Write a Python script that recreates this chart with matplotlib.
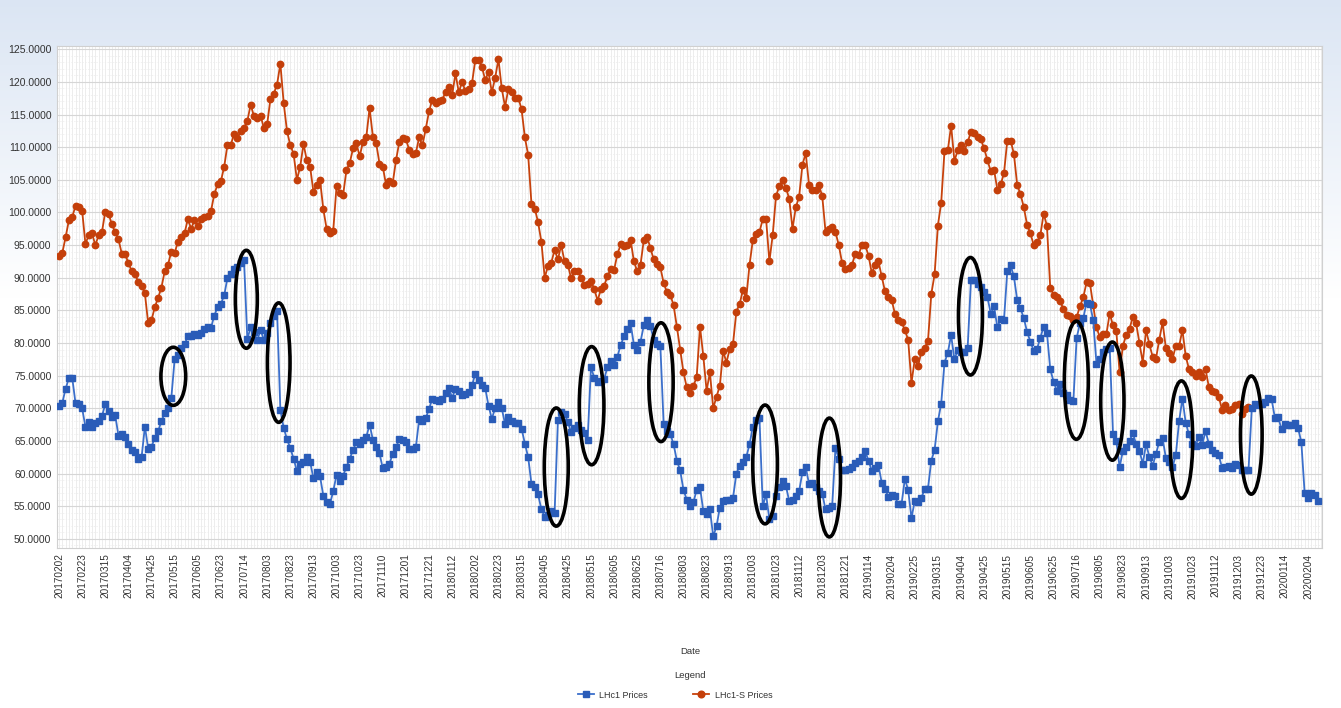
import numpy as np
import matplotlib
matplotlib.use("Agg")
import matplotlib.pyplot as plt
from matplotlib.patches import Ellipse
from matplotlib.lines import Line2D

plt.rcParams['font.family'] = ['Liberation Sans', 'DejaVu Sans']

# ---------------- data ----------------
STEP = 2          # one value every 2 trading days
TICK_EVERY = 14   # a date label every 14 trading days

tick_labels = [
    "20170202", "20170223", "20170315", "20170404", "20170425", "20170515", "20170605",
    "20170623", "20170714", "20170803", "20170823", "20170913", "20171003", "20171023",
    "20171110", "20171201", "20171221", "20180112", "20180202", "20180223", "20180315",
    "20180405", "20180425", "20180515", "20180605", "20180625", "20180716", "20180803",
    "20180823", "20180913", "20181003", "20181023", "20181112", "20181203", "20181221",
    "20190114", "20190204", "20190225", "20190315", "20190404", "20190425", "20190515",
    "20190605", "20190625", "20190716", "20190805", "20190823", "20190913", "20191003",
    "20191023", "20191112", "20191203", "20191223", "20200114", "20200204",
]

lhc1 = [
    70.3, 70.8, 73.0, 74.6, 74.7, 70.8, 70.7, 70.0, 67.2, 67.9,
    67.2, 67.8, 68.1, 68.8, 70.6, 69.6, 68.7, 69.0, 65.8, 66.0,
    65.6, 64.6, 63.6, 63.3, 62.3, 62.5, 67.2, 63.8, 64.1, 65.5,
    66.5, 68.0, 69.3, 70.0, 71.6, 77.5, 78.2, 79.2, 79.8, 81.0,
    81.1, 81.4, 81.3, 81.5, 82.2, 82.5, 82.3, 84.2, 85.5, 86.0,
    87.3, 90.0, 90.6, 91.4, 91.7, 92.2, 92.7, 80.6, 82.4, 81.7,
    80.4, 82.0, 80.5, 81.5, 83.1, 84.2, 84.9, 69.8, 67.0, 65.3,
    63.9, 62.3, 60.4, 61.4, 61.8, 62.5, 61.8, 59.3, 60.2, 59.6,
    56.6, 55.7, 55.3, 57.3, 59.8, 58.9, 59.7, 61.0, 62.3, 63.6,
    64.8, 64.5, 65.1, 65.6, 67.5, 65.2, 64.1, 63.1, 60.8, 61.0,
    61.5, 63.0, 64.0, 65.3, 65.1, 64.8, 63.7, 63.7, 64.0, 68.3,
    68.0, 68.5, 69.9, 71.5, 71.3, 71.1, 71.4, 72.3, 73.1, 71.6,
    73.0, 72.6, 72.0, 72.2, 72.5, 73.5, 75.3, 74.4, 73.6, 73.1,
    70.4, 68.4, 70.0, 71.0, 70.0, 67.6, 68.7, 68.0, 67.7, 67.7,
    66.9, 64.6, 62.5, 58.4, 57.9, 56.8, 54.5, 53.4, 53.7, 54.2,
    54.0, 68.2, 69.5, 69.2, 67.9, 66.3, 67.0, 67.4, 66.6, 66.2,
    65.2, 76.3, 74.7, 74.0, 74.2, 74.5, 76.3, 77.2, 76.6, 77.9,
    79.7, 81.0, 82.1, 83.0, 79.7, 79.0, 80.2, 82.7, 83.5, 82.6,
    80.5, 79.9, 79.6, 67.6, 66.5, 66.1, 64.5, 62.0, 60.5, 57.5,
    56.0, 55.0, 55.6, 57.5, 57.9, 54.3, 53.8, 54.5, 50.4, 51.9,
    54.8, 55.8, 56.0, 56.0, 56.3, 60.0, 61.2, 61.7, 62.5, 64.5,
    67.2, 68.2, 68.5, 55.0, 56.8, 53.0, 53.5, 56.5, 58.0, 58.8,
    58.1, 55.8, 55.9, 56.6, 57.3, 60.2, 61.0, 58.4, 58.6, 57.9,
    57.4, 56.9, 54.5, 54.8, 55.0, 63.9, 62.3, 60.5, 60.5, 60.7,
    61.0, 61.6, 62.0, 62.5, 63.4, 62.0, 60.4, 60.9, 61.3, 58.6,
    57.7, 56.4, 56.7, 56.5, 55.3, 55.3, 59.2, 57.5, 53.2, 55.8,
    55.6, 56.3, 57.6, 57.7, 62.0, 63.6, 68.0, 70.7, 77.0, 78.5,
    81.2, 77.5, 78.9, 78.7, 78.7, 79.2, 89.6, 89.6, 89.0, 88.6,
    87.8, 87.0, 84.5, 85.6, 82.4, 83.7, 83.5, 91.0, 91.9, 90.2,
    86.6, 85.3, 83.8, 81.7, 80.2, 78.8, 79.1, 80.8, 82.5, 81.6,
    76.0, 74.1, 72.7, 73.7, 72.3, 72.1, 71.3, 71.1, 80.8, 83.0,
    83.8, 86.2, 86.0, 83.5, 76.8, 77.6, 78.7, 79.1, 79.3, 66.0,
    65.0, 61.0, 63.5, 64.0, 65.0, 66.2, 64.5, 63.5, 61.5, 64.5,
    62.6, 61.2, 63.0, 64.9, 65.4, 62.4, 61.8, 61.0, 62.8, 68.0,
    71.5, 67.8, 66.0, 64.5, 64.3, 65.6, 64.4, 66.5, 64.6, 63.6,
    63.1, 62.8, 60.9, 61.0, 61.2, 60.8, 61.4, 61.3, 60.6, 60.6,
    60.5, 70.0, 70.7, 70.5, 70.7, 71.0, 71.6, 71.4, 68.5, 68.6,
    66.8, 67.6, 67.5, 67.5, 67.8, 67.0, 64.8, 57.0, 56.3, 57.0,
    56.7, 55.8,
]

lhc1_s = [
    93.4, 93.8, 96.2, 98.8, 99.3, 101.0, 100.8, 100.3, 95.2, 96.5,
    96.8, 95.0, 96.5, 97.0, 100.1, 99.8, 98.2, 97.0, 95.9, 93.7,
    93.6, 92.3, 91.0, 90.5, 89.4, 88.8, 87.6, 83.0, 83.5, 85.5,
    86.9, 88.5, 91.0, 92.0, 94.0, 93.8, 95.5, 96.3, 96.8, 99.0,
    97.5, 98.8, 97.9, 99.0, 99.3, 99.4, 100.2, 102.8, 104.3, 104.8,
    107.0, 110.4, 110.4, 112.0, 111.4, 112.5, 113.0, 114.0, 116.5, 114.8,
    114.5, 114.8, 113.0, 113.5, 117.4, 118.2, 119.6, 122.8, 116.8, 112.5,
    110.3, 109.0, 105.0, 107.0, 110.5, 108.0, 107.0, 103.2, 104.2, 105.0,
    100.5, 97.5, 96.9, 97.2, 104.0, 103.0, 102.7, 106.5, 107.6, 109.8,
    110.6, 108.6, 110.8, 111.5, 116.0, 111.6, 110.6, 107.5, 107.0, 104.2,
    104.8, 104.5, 108.0, 110.8, 111.4, 111.2, 109.6, 108.9, 109.1, 111.5,
    110.3, 112.8, 115.5, 117.3, 116.8, 117.0, 117.3, 118.4, 119.2, 118.0,
    121.3, 118.4, 120.0, 118.6, 118.9, 119.8, 123.4, 123.3, 122.3, 120.3,
    121.5, 118.4, 120.6, 123.5, 119.0, 116.2, 118.9, 118.4, 117.6, 117.6,
    115.8, 111.5, 108.8, 101.3, 100.6, 98.5, 95.5, 90.0, 91.8, 92.3,
    94.3, 92.8, 95.0, 92.5, 92.0, 89.9, 91.0, 91.0, 90.0, 88.9,
    89.0, 89.5, 88.3, 86.5, 88.2, 88.8, 90.2, 91.4, 91.2, 93.6,
    95.1, 94.9, 95.0, 95.8, 92.5, 91.0, 92.0, 95.8, 96.3, 94.5,
    92.8, 92.1, 91.6, 89.2, 87.8, 87.4, 85.8, 82.5, 79.0, 75.5,
    73.2, 72.4, 73.4, 74.8, 82.5, 78.0, 72.7, 75.5, 70.0, 71.8,
    73.4, 78.8, 77.0, 79.1, 79.9, 84.8, 86.0, 88.1, 86.9, 92.0,
    95.8, 96.7, 97.0, 99.0, 99.0, 92.5, 96.5, 102.5, 104.0, 105.0,
    103.8, 102.1, 97.5, 100.8, 102.4, 107.3, 109.1, 104.2, 103.5, 103.5,
    104.2, 102.5, 97.0, 97.5, 97.7, 97.0, 95.0, 92.3, 91.3, 91.5,
    92.0, 93.6, 93.5, 95.0, 95.0, 93.4, 90.7, 92.0, 92.5, 90.2,
    87.9, 87.1, 86.6, 84.5, 83.5, 83.2, 82.0, 80.5, 73.9, 77.5,
    76.5, 78.6, 79.3, 80.3, 87.5, 90.5, 98.0, 101.5, 109.4, 109.5,
    113.3, 107.9, 109.5, 110.3, 109.4, 110.8, 112.3, 112.2, 111.6, 111.2,
    109.8, 108.0, 106.3, 106.5, 103.5, 104.3, 106.0, 111.0, 111.0, 109.0,
    104.2, 102.8, 100.8, 98.1, 96.8, 95.0, 95.4, 96.5, 99.8, 98.0,
    88.5, 87.4, 87.0, 86.4, 85.2, 84.3, 84.1, 83.5, 84.0, 85.6,
    87.0, 89.3, 89.2, 85.8, 82.4, 80.9, 81.4, 81.4, 84.5, 82.7,
    81.8, 75.5, 79.6, 81.2, 82.2, 84.0, 83.0, 80.0, 77.0, 82.0,
    79.8, 77.9, 77.6, 80.5, 83.2, 79.2, 78.5, 77.5, 79.6, 79.5,
    82.0, 78.0, 76.0, 75.5, 75.0, 75.5, 74.8, 76.0, 73.3, 72.6,
    72.5, 71.8, 69.8, 70.5, 69.8, 69.9, 70.5, 70.6, 69.2, 69.9,
    70.2,
]

# highlight ellipses: (trading-day index, price, width in days, height in price)
highlights = [
    (69.2, 74.9, 15.0, 8.9), (113.4, 86.7, 13.3, 15.0), (133.0, 77.0, 13.7, 18.3),
    (301.0, 61.0, 14.5, 18.1), (322.4, 70.4, 14.9, 18.1), (364.4, 74.0, 14.7, 18.2),
    (427.4, 61.4, 14.9, 18.2), (466.3, 59.4, 13.5, 18.2), (551.7, 84.1, 14.5, 18.0),
    (615.8, 74.3, 14.5, 18.1), (637.6, 71.1, 14.1, 18.1), (679.4, 65.2, 13.7, 18.0),
    (721.7, 65.9, 13.1, 18.1),
]

BLUE_LINE = "#3b6fcb"
BLUE_MARK = "#2a5cb8"
RED_LINE = "#c7420c"
RED_MARK = "#c43f0a"
TXT = "#333333"

# ---------------- figure ----------------
W, H = 1341, 708
fig = plt.figure(figsize=(W / 100, H / 100), dpi=100)

# background gradient
bg = fig.add_axes([0, 0, 1, 1], zorder=-10)
t = np.clip(np.linspace(0, 1, 400) / 0.42, 0, 1)[:, None]
top = np.array([0.86, 0.90, 0.955])
img = top[None, None, :] * (1 - t[:, :, None]) + np.ones(3)[None, None, :] * t[:, :, None]
img = np.repeat(img, 4, axis=1)
bg.imshow(img, aspect="auto", extent=[0, 1, 0, 1], origin="upper")
bg.set_axis_off()

left, right = 57 / W, 1322 / W
bottom, topy = 1 - 548 / H, 1 - 46 / H
ax = fig.add_axes([left, bottom, right - left, topy - bottom])
ax.set_facecolor("white")

x_b = np.arange(len(lhc1)) * STEP
x_s = np.arange(len(lhc1_s)) * STEP

# grids
for xv in np.arange(0, 766, 2):
    ax.axvline(xv, color="#e6e6e6", lw=0.5, zorder=0)
for yv in np.arange(49, 126, 1):
    ax.axhline(yv, color="#ececec", lw=0.5, ls=(0, (2, 2)), zorder=0)
for yv in np.arange(50, 126, 5):
    ax.axhline(yv, color="#d6d6d6", lw=0.8, zorder=0.5)

ax.plot(x_s, lhc1_s, color=RED_LINE, lw=1.3, marker="o", ms=4.6,
        mfc=RED_MARK, mec=RED_MARK, zorder=3)
ax.plot(x_b, lhc1, color=BLUE_LINE, lw=1.3, marker="s", ms=4.3,
        mfc=BLUE_MARK, mec=BLUE_MARK, zorder=4)

for cx, cy, w, h in highlights:
    ax.add_patch(Ellipse((cx, cy), w, h, fill=False, ec="black", lw=2.6, zorder=6))

ax.set_xlim(-1.2, 764.5)
ax.set_ylim(48.6, 125.5)

ax.set_yticks(np.arange(50, 126, 5))
ax.set_yticklabels([f"{v:.4f}" for v in np.arange(50, 126, 5)], fontsize=7.5, color=TXT)
ax.set_xticks(np.arange(len(tick_labels)) * TICK_EVERY)
ax.set_xticklabels(tick_labels, rotation=90, fontsize=7.2, color=TXT)
ax.tick_params(axis="both", length=0, pad=4)
for sp in ax.spines.values():
    sp.set_color("#d0d0d0")
    sp.set_linewidth(0.8)

fig.text(690 / W, 1 - 651 / H, "Date", ha="center", va="center", fontsize=6.8, color=TXT)
fig.text(690 / W, 1 - 676 / H, "Legend", ha="center", va="center", fontsize=6.8, color=TXT)

handles = [
    Line2D([0], [0], color=BLUE_LINE, lw=1.3, marker="s", ms=4.5, mfc=BLUE_MARK, mec=BLUE_MARK),
    Line2D([0], [0], color=RED_LINE, lw=1.3, marker="o", ms=4.8, mfc=RED_MARK, mec=RED_MARK),
]
fig.legend(handles, ["LHc1 Prices", "LHc1-S Prices"], loc="center",
           bbox_to_anchor=(675 / W, 1 - 695 / H), ncol=2, frameon=False,
           fontsize=6.5, handlelength=1.8, columnspacing=5.0, handletextpad=0.6,
           labelcolor=TXT)

fig.savefig("out.png", dpi=100)
